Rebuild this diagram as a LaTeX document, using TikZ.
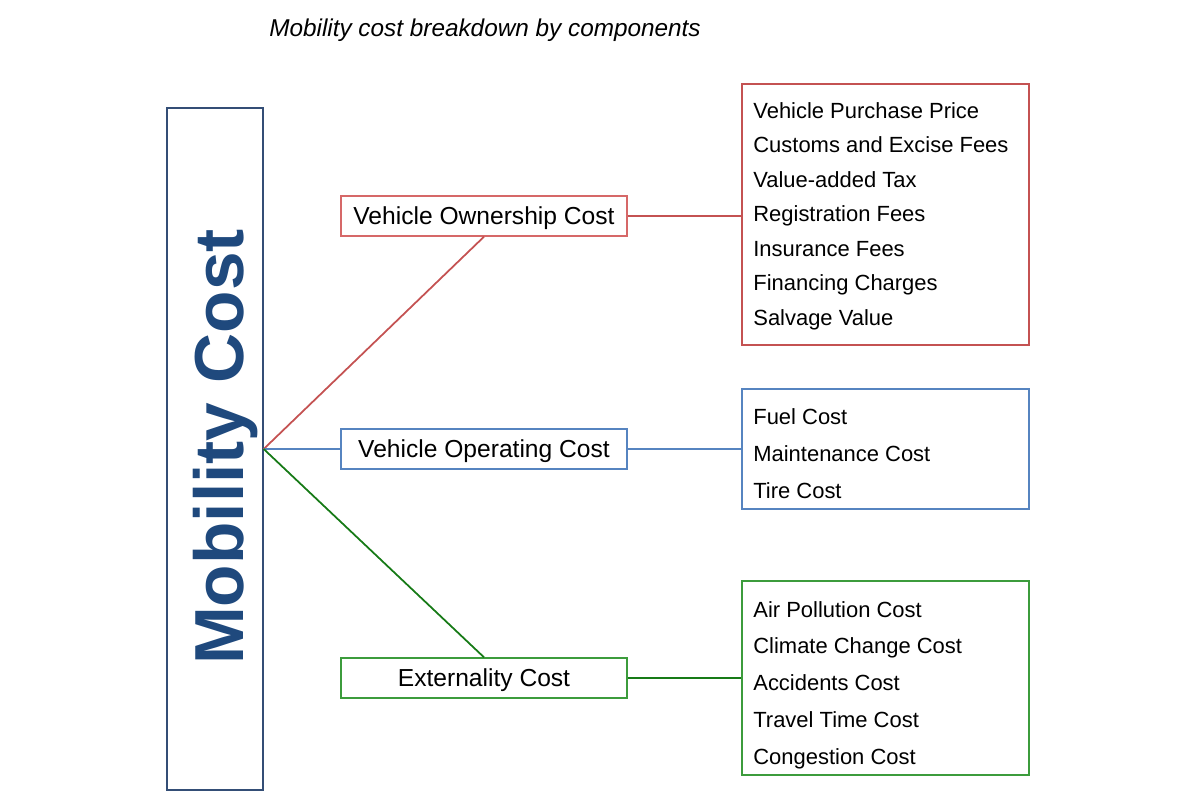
\documentclass[tikz,border=0pt]{standalone}
\usepackage{fontspec}
\setmainfont{Liberation Sans}
\usepackage{tikz}
\newdimen\unitsize
\setlength{\unitsize}{0.02cm}
\definecolor{mobblue}{RGB}{31,73,125}
\definecolor{mobframe}{RGB}{52,78,118}
\definecolor{ownred}{RGB}{196,82,82}
\definecolor{ownframe}{RGB}{214,104,104}
\definecolor{oprblue}{RGB}{86,132,192}
\definecolor{extgreen}{RGB}{22,122,22}
\definecolor{extframe}{RGB}{60,156,60}
\tikzset{
  catbox/.style={draw,line width=0.8pt,fill=white,inner sep=0pt,
    minimum width=286*\unitsize,minimum height=40*\unitsize,
    text depth=0pt,font=\fontsize{14}{16}\selectfont},
  listbox/.style={draw,line width=0.8pt,inner sep=0pt,
    minimum width=287*\unitsize},
  listitem/.style={anchor=base west,inner sep=0pt,
    font=\fontsize{12.5}{15}\selectfont},
  link/.style={line width=1pt}
}

\begin{document}
\begin{tikzpicture}[x=\unitsize,y=-\unitsize]
\useasboundingbox (0,0) rectangle (1198,799);
\node[anchor=base,font=\itshape\fontsize{13.85}{16}\selectfont] (title)
  at (485,36) {Mobility cost breakdown by components};
\node[draw=mobframe,line width=0.8pt,inner sep=0pt,
  minimum width=96*\unitsize,minimum height=682*\unitsize] (mob) at (215,449) {};
\node[rotate=90,anchor=base,inner sep=0pt,text=mobblue,
  font=\bfseries\fontsize{39.5}{40}\selectfont] (mobtext) at (243,447) {Mobility Cost};
\node[catbox,draw=ownframe] (own) at (484,216) {Vehicle Ownership Cost};
\node[catbox,draw=oprblue] (opr) at (484,449) {Vehicle Operating Cost};
\node[catbox,draw=extframe] (ext) at (484,678) {Externality Cost};
\node[listbox,draw=ownred,minimum height=261*\unitsize] (ownlist) at (885.5,214.5) {};
\node[listbox,draw=oprblue,minimum height=120*\unitsize] (oprlist) at (885.5,449) {};
\node[listbox,draw=extframe,minimum height=194*\unitsize] (extlist) at (885.5,678) {};
\foreach \itext [count=\i from 0] in {Vehicle Purchase Price,Customs and Excise Fees,
  Value-added Tax,Registration Fees,Insurance Fees,Financing Charges,Salvage Value}{
  \node[listitem] (ownitem\i) at (753,{118+34.5*\i}) {\itext};
}
\foreach \itext [count=\i from 0] in {Fuel Cost,Maintenance Cost,Tire Cost}{
  \node[listitem] (opritem\i) at (753,{424+37*\i}) {\itext};
}
\foreach \itext [count=\i from 0] in {Air Pollution Cost,Climate Change Cost,
  Accidents Cost,Travel Time Cost,Congestion Cost}{
  \node[listitem] (extitem\i) at (753,{617+36.75*\i}) {\itext};
}
\draw[link,ownred] (mob.east) -- (own.south);
\draw[link,oprblue] (mob.east) -- (opr.west);
\draw[link,extgreen] (mob.east) -- (ext.north);
\draw[link,ownred] (own.east) -- (own.east -| ownlist.west);
\draw[link,oprblue] (opr.east) -- (opr.east -| oprlist.west);
\draw[link,extgreen] (ext.east) -- (ext.east -| extlist.west);
\end{tikzpicture}
\end{document}
